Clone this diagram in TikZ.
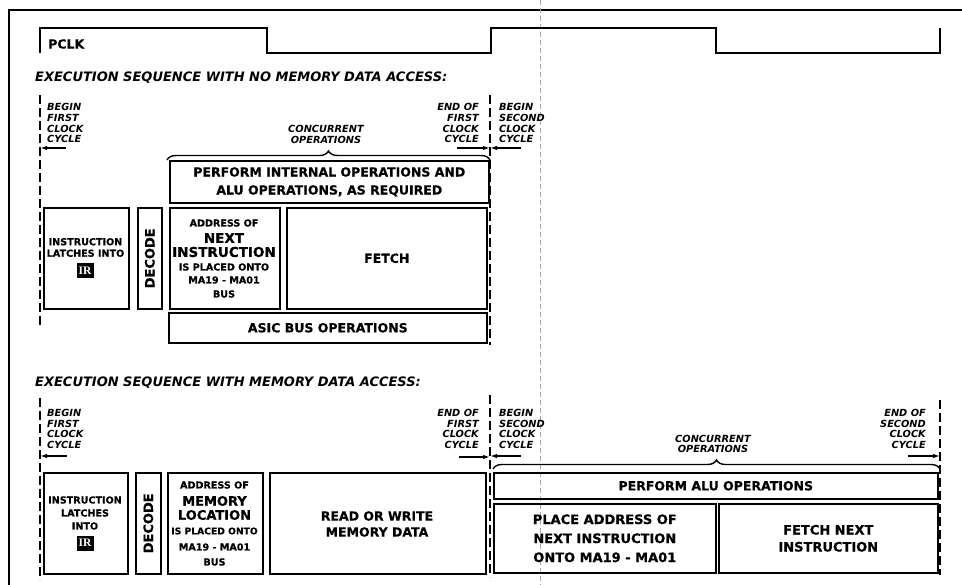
\documentclass[tikz,border=0pt]{standalone}
\usepackage{fontspec}
\setmainfont[BoldFeatures={FakeBold=0.6}]{DejaVu Sans}
\newfontfamily\irfont{Liberation Serif}
\usetikzlibrary{arrows.meta,decorations.pathreplacing}
\begin{document}
\begin{tikzpicture}[x=1pt,y=-1pt,
  box/.style={draw, line width=1.6pt, inner sep=0pt, anchor=north west},
  big/.style={inner sep=0pt, align=center, font=\bfseries\fontsize{12.5}{18}\selectfont},
  bigb/.style={inner sep=0pt, align=center, font=\bfseries\fontsize{13.5}{14}\selectfont},
  small/.style={inner sep=0pt, align=center, font=\bfseries\fontsize{9.6}{11.5}\selectfont},
  lbl/.style={inner sep=0pt, font=\bfseries\itshape\fontsize{9.8}{10.6}\selectfont},
  title/.style={inner sep=0pt, anchor=west, font=\bfseries\itshape\fontsize{13}{15}\selectfont},
  dline/.style={line width=1.6pt, dash pattern=on 9pt off 4pt},
  arr/.style={line width=1.4pt, -{Latex[length=7pt,width=4.5pt]}},
  brc/.style={decorate, decoration={brace, amplitude=9pt}, line width=1.4pt},
  irbox/.style={fill=black, text=white, inner sep=0pt, minimum width=17pt, minimum height=15pt, font=\irfont\bfseries\fontsize{11.5}{11.5}\selectfont},
  dec/.style={inner sep=0pt, rotate=90, font=\bfseries\fontsize{13}{13}\selectfont}
]
\useasboundingbox (0,0) rectangle (962,585);
% frame
\draw[line width=2.8pt] (9,585) -- (9,10) -- (962,10);
% fold line
\draw[gray!70, line width=0.5pt, dash pattern=on 5pt off 3pt] (540,0) -- (540,585);
% clock
\draw[line width=1.5pt] (40,53) -- (40,28) -- (267,28) -- (267,53) -- (491,53) -- (491,28) -- (716,28) -- (716,53) -- (940,53) -- (940,28);
\node[inner sep=0pt, anchor=west, font=\bfseries\fontsize{12.5}{14}\selectfont] (pclk) at (48,44) {PCLK};

% ===== top section =====
\node[title] (t1) at (35,78) {EXECUTION SEQUENCE WITH NO MEMORY DATA ACCESS:};
\coordinate (l1a) at (40,95); \coordinate (l1b) at (40,328);
\coordinate (m1a) at (490,95); \coordinate (m1b) at (490,345);
\draw[dline] (l1a) -- (l1b);
\draw[dline] (m1a) -- (m1b);
\node[lbl, anchor=north west, align=left] (bg1) at (47,103.5) {BEGIN\\FIRST\\CLOCK\\CYCLE};
\node[lbl, anchor=north east, align=right] (en1) at (479,103.5) {END OF\\FIRST\\CLOCK\\CYCLE};
\node[lbl, anchor=north west, align=left] (bs1) at (499,103.5) {BEGIN\\SECOND\\CLOCK\\CYCLE};
\node[lbl, align=center] (cc1) at (326,134.5) {CONCURRENT\\OPERATIONS};
\coordinate (a1s) at (66,148); \coordinate (a1e) at (40,148);
\coordinate (a2s) at (457,148); \coordinate (a2e) at (490,148);
\coordinate (a3s) at (521,148); \coordinate (a3e) at (490,148);
\draw[arr] (a1s) -- (a1e);
\draw[arr] (a2s) -- (a2e);
\draw[arr] (a3s) -- (a3e);
\coordinate (br1a) at (167,160); \coordinate (br1b) at (490,160);
\draw[brc] (br1a) -- (br1b);

\node[box, minimum width=319pt, minimum height=42pt] (alu1) at (169,160) {};
\node[big] (alu1t) at (alu1.center) {PERFORM INTERNAL OPERATIONS AND\\ALU OPERATIONS, AS REQUIRED};
\node[box, minimum width=85pt, minimum height=101pt] (ins1) at (43,207) {};
\node[small] (ins1t) at (85.5,247.5) {INSTRUCTION\\LATCHES INTO};
\node[irbox] (ir1) at (85,271) {IR};
\node[box, minimum width=24pt, minimum height=101pt] (dec1) at (137,207) {};
\node[dec] (dec1t) at (dec1.center) {DECODE};
\node[box, minimum width=110pt, minimum height=101pt] (adr1) at (169,207) {};
\node[small] (adr1a) at (224,223) {ADDRESS OF};
\node[bigb] (adr1b) at (224,238) {NEXT};
\node[bigb] (adr1c) at (224,252) {INSTRUCTION};
\node[small] (adr1d) at (224,267) {IS PLACED ONTO};
\node[small] (adr1e) at (224,280) {MA19 - MA01};
\node[small] (adr1f) at (224,294) {BUS};
\node[box, minimum width=200pt, minimum height=101pt] (fet1) at (286,207) {};
\node[big] (fet1t) at (fet1.center) {FETCH};
\node[box, minimum width=318pt, minimum height=30pt] (asic1) at (168,312) {};
\node[big] (asic1t) at (asic1.center) {ASIC BUS OPERATIONS};

% ===== bottom section =====
\node[title] (t2) at (35,383) {EXECUTION SEQUENCE WITH MEMORY DATA ACCESS:};
\coordinate (l2a) at (40,398); \coordinate (l2b) at (40,580);
\coordinate (m2a) at (490,395); \coordinate (m2b) at (490,577);
\coordinate (r2a) at (940,400); \coordinate (r2b) at (940,575);
\draw[dline] (l2a) -- (l2b);
\draw[dline] (m2a) -- (m2b);
\draw[dline] (r2a) -- (r2b);
\node[lbl, anchor=north west, align=left] (bg2) at (47,409) {BEGIN\\FIRST\\CLOCK\\CYCLE};
\node[lbl, anchor=north east, align=right] (en2) at (479,409) {END OF\\FIRST\\CLOCK\\CYCLE};
\node[lbl, anchor=north west, align=left] (bs2) at (499,409) {BEGIN\\SECOND\\CLOCK\\CYCLE};
\node[lbl, anchor=north east, align=right] (es2) at (926,409) {END OF\\SECOND\\CLOCK\\CYCLE};
\node[lbl, align=center] (cc2) at (713,444) {CONCURRENT\\OPERATIONS};
\coordinate (b1s) at (67,456); \coordinate (b1e) at (40,456);
\coordinate (b2s) at (459,457); \coordinate (b2e) at (490,457);
\coordinate (b3s) at (521,456); \coordinate (b3e) at (490,456);
\coordinate (b4s) at (908,456); \coordinate (b4e) at (940,456);
\draw[arr] (b1s) -- (b1e);
\draw[arr] (b2s) -- (b2e);
\draw[arr] (b3s) -- (b3e);
\draw[arr] (b4s) -- (b4e);
\coordinate (br2a) at (493,469); \coordinate (br2b) at (940,469);
\draw[brc] (br2a) -- (br2b);

\node[box, minimum width=84pt, minimum height=101pt] (ins2) at (43,472) {};
\node[small, font=\bfseries\fontsize{9.6}{13}\selectfont] (ins2t) at (85,513) {INSTRUCTION\\LATCHES\\INTO};
\node[irbox] (ir2) at (85,543) {IR};
\node[box, minimum width=25pt, minimum height=101pt] (dec2) at (135,472) {};
\node[dec] (dec2t) at (dec2.center) {DECODE};
\node[box, minimum width=95pt, minimum height=101pt] (adr2) at (167,472) {};
\node[small] (adr2a) at (214.5,485) {ADDRESS OF};
\node[bigb, font=\bfseries\fontsize{13}{14}\selectfont] (adr2b) at (214.5,501) {MEMORY};
\node[bigb, font=\bfseries\fontsize{13}{14}\selectfont] (adr2c) at (214.5,515) {LOCATION};
\node[small, font=\bfseries\fontsize{9.2}{11}\selectfont] (adr2d) at (214.5,531) {IS PLACED ONTO};
\node[small] (adr2e) at (214.5,547) {MA19 - MA01};
\node[small] (adr2f) at (214.5,562) {BUS};
\node[box, minimum width=216pt, minimum height=101pt] (rw2) at (269,472) {};
\node[big, font=\bfseries\fontsize{12.5}{16}\selectfont] (rw2t) at (377,524) {READ OR WRITE\\MEMORY DATA};
\node[box, minimum width=444pt, minimum height=26pt] (alu2) at (493,472) {};
\node[big] (alu2t) at (alu2.center) {PERFORM ALU OPERATIONS};
\node[box, minimum width=222pt, minimum height=69pt] (pla2) at (493,503) {};
\node[big, font=\bfseries\fontsize{13}{19}\selectfont] (pla2t) at (pla2.center) {PLACE ADDRESS OF\\NEXT INSTRUCTION\\ONTO MA19 - MA01};
\node[box, minimum width=219pt, minimum height=69pt] (fn2) at (718,503) {};
\node[big, font=\bfseries\fontsize{13}{17}\selectfont] (fn2t) at (fn2.center) {FETCH NEXT\\INSTRUCTION};
\end{tikzpicture}
\end{document}
